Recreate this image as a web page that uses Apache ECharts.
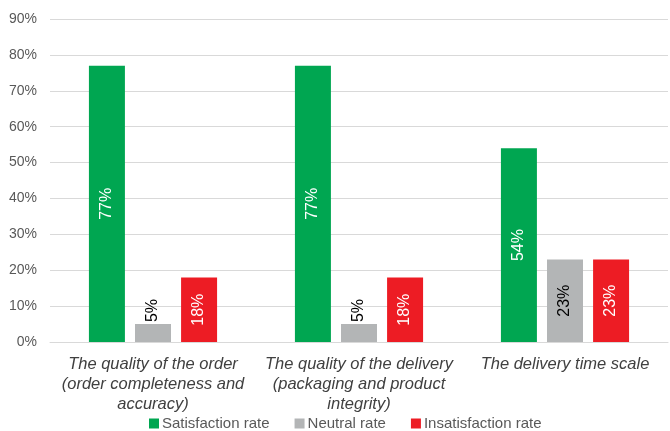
<!DOCTYPE html>
<html><head><meta charset="utf-8">
<script src="https://cdn.jsdelivr.net/npm/echarts@6/dist/echarts.min.js"></script>
<style>html,body{margin:0;padding:0;background:#fff}#c{width:670px;height:431px}</style>
</head><body><div id="c"></div>
<script>
const categories = [
  "The quality of the order\n(order completeness and\naccuracy)",
  "The quality of the delivery\n(packaging and product\nintegrity)",
  "The delivery time scale"
];
const seriesNames = ["Satisfaction rate", "Neutral rate", "Insatisfaction rate"];
const satisfaction = [77, 77, 54];
const neutral = [5, 5, 23];
const insatisfaction = [18, 18, 23];
const yTicks = [0, 10, 20, 30, 40, 50, 60, 70, 80, 90];

const colors = ["#00A651", "#B3B5B6", "#ED1C24"];
const labelColors = ["#ffffff", "#000000", "#ffffff"];
const FONT = "Liberation Sans, Arial, sans-serif";

function mkData(vals, idx) {
  return vals.map(v => {
    if (v < 10) {
      return { value: v, label: { position: 'top', distance: 2, align: 'left', verticalAlign: 'middle', color: labelColors[idx] } };
    }
    return v;
  });
}

const allVals = [satisfaction, neutral, insatisfaction];
const chart = echarts.init(document.getElementById('c'));
chart.setOption({
  animation: false,
  grid: { left: 50, right: 2, top: 19, bottom: 89 },
  legend: {
    bottom: 0, left: 149, itemWidth: 10, itemHeight: 10, itemGap: 25, padding: 0,
    icon: 'rect',
    textStyle: { fontFamily: FONT, fontSize: 15, color: '#595959', padding: [0, 0, 0, -2] },
    data: seriesNames
  },
  xAxis: {
    type: 'category', data: categories,
    axisLine: { lineStyle: { color: '#d9d9d9' } },
    axisTick: { show: false },
    axisLabel: { interval: 0, fontFamily: FONT, fontStyle: 'italic', fontSize: 16.5, color: '#404040', lineHeight: 20, margin: 12 }
  },
  yAxis: {
    type: 'value', min: yTicks[0], max: yTicks[yTicks.length - 1], interval: 10,
    axisLabel: { formatter: v => v + '%', fontFamily: FONT, fontSize: 14, color: '#595959', margin: 13 },
    splitLine: { lineStyle: { color: '#d9d9d9', width: 1 } },
    axisLine: { show: false }, axisTick: { show: false }
  },
  series: seriesNames.map((n, i) => ({
    name: n, type: 'bar', data: mkData(allVals[i], i),
    barWidth: 36, barGap: '28%',
    itemStyle: { color: colors[i] },
    label: {
      show: true, rotate: 90, position: 'inside', formatter: '{c}%',
      color: labelColors[i], fontFamily: FONT, fontSize: 16
    }
  }))
});
</script></body></html>
